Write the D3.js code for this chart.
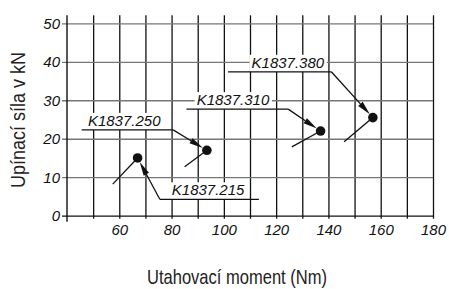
<!DOCTYPE html>
<html>
<head>
  <meta charset="utf-8">
  <title>Upínací síla</title>
  <style>
    body { margin: 0; background: #fff; }
    text { font-family: "Liberation Sans", Arial, sans-serif; }
  </style>
</head>
<body>
  <svg id="main" width="449" height="289"></svg>

  <script src="https://cdn.jsdelivr.net/npm/d3@7"></script>
  <script>
    // hodnoty
    const types = ['K1837.215', 'K1837.250', 'K1837.310', 'K1837.380']
    const torque = [67, 93.5, 137, 157]
    const force = [15, 17, 22, 25.5]
    // spodní konec krátké čáry u každého bodu
    const tailTorque = [57.5, 85, 126, 146]
    const tailForce = [8.2, 12.7, 17.9, 19.2]

    const gridX = [50, 60, 70, 80, 90, 100, 110, 120, 130, 140, 150, 160, 170, 180]
    const xTickLabels = [60, 80, 100, 120, 140, 160, 180]
    const yTicks = [0, 10, 20, 30, 40, 50]

    // umístění popisků (podtržení) v jednotkách grafu
    const labelX0 = [75.5, 45.6, 85.7, 101.6]
    const labelX1 = [113.4, 80.6, 124.6, 141.1]
    const labelY = [4.26, 22.3, 27.7, 37.4]
    const labelTextX = [80.1, 48, 89.6, 110.6]

    const svg = d3.select('#main')
    const margin = { top: 23.3, right: 16, bottom: 73.3, left: 67 }
    const width = +svg.attr('width')
    const height = +svg.attr('height')
    const innerWidth = width - margin.left - margin.right
    const innerHeight = height - margin.top - margin.bottom

    const chart = svg.append('g')
      .attr('transform', `translate(${margin.left},${margin.top})`)

    const xScale = d3.scaleLinear().domain([40, 180]).range([0, innerWidth])
    const yScale = d3.scaleLinear().domain([0, 50]).range([innerHeight, 0])

    // svislé čáry mřížky
    const xGrid = d3.axisBottom(xScale)
      .tickValues(gridX)
      .tickSize(-(innerHeight + 8))
      .tickFormat('')
    const gg = chart.append('g')
      .attr('transform', `translate(0,${innerHeight})`)
      .call(xGrid)
    gg.select('.domain').remove()
    gg.selectAll('.tick line')
      .attr('y1', 3)
      .attr('stroke', '#111')
      .attr('stroke-width', 1.3)
    gg.selectAll('.tick text').remove()

    // popisky osy x
    const xAxis = d3.axisBottom(xScale)
      .tickValues(xTickLabels)
      .tickSize(0)
      .tickPadding(9)
    const gx = chart.append('g')
      .attr('transform', `translate(0,${innerHeight})`)
      .call(xAxis)
    gx.select('.domain').remove()
    gx.selectAll('.tick text')
      .attr('font-size', 15)
      .attr('font-style', 'italic')
      .attr('fill', '#111')
      .attr('font-family', '"Liberation Sans", Arial, sans-serif')

    // vodorovné čáry mřížky + popisky osy y
    const yAxis = d3.axisLeft(yScale)
      .tickValues(yTicks)
      .tickSize(-innerWidth)
      .tickPadding(7)
    const gy = chart.append('g').call(yAxis)
    gy.select('.domain').remove()
    gy.selectAll('.tick line')
      .attr('x1', -5)
      .attr('stroke', d => d === 0 ? '#111' : '#777')
      .attr('stroke-width', 1.3)
    gy.selectAll('.tick text')
      .attr('font-size', 15)
      .attr('font-style', 'italic')
      .attr('fill', '#111')
      .attr('font-family', '"Liberation Sans", Arial, sans-serif')

    // osa y
    chart.append('line')
      .attr('x1', 0).attr('x2', 0)
      .attr('y1', -8).attr('y2', innerHeight + 6)
      .attr('stroke', '#111')
      .attr('stroke-width', 1.4)

    // popisky
    const labels = chart.append('g')
    types.forEach((t, i) => {
      const ux0 = xScale(labelX0[i])
      const ux1 = xScale(labelX1[i])
      const uy = yScale(labelY[i])
      const g = labels.append('g')
      const bg = g.append('rect').attr('fill', '#fff')
      const txt = g.append('text')
        .attr('x', xScale(labelTextX[i]))
        .attr('y', uy - 4)
        .attr('font-size', 15)
        .attr('font-style', 'italic')
        .attr('fill', '#111')
        .text(t)
      const bb = txt.node().getBBox()
      bg.attr('x', bb.x - 2).attr('y', bb.y + 1)
        .attr('width', bb.width + 4).attr('height', uy - bb.y - 1)

      g.append('line')
        .attr('x1', ux0).attr('x2', ux1)
        .attr('y1', uy).attr('y2', uy)
        .attr('stroke', '#111').attr('stroke-width', 1.3)

      // vodicí čára k bodu, od bližšího konce podtržení
      const px = xScale(torque[i])
      const py = yScale(force[i])
      const sx = Math.abs(ux0 - px) < Math.abs(ux1 - px) ? ux0 : ux1
      const dx = px - sx, dy = py - uy
      const len = Math.hypot(dx, dy)
      const ux = dx / len, uyv = dy / len
      const r = 4.5
      const tipX = px - ux * r, tipY = py - uyv * r
      const baseX = tipX - ux * 14, baseY = tipY - uyv * 14
      g.append('line')
        .attr('x1', sx).attr('y1', uy)
        .attr('x2', baseX).attr('y2', baseY)
        .attr('stroke', '#111').attr('stroke-width', 1.3)
      g.append('path')
        .attr('d', `M${tipX},${tipY}L${baseX - uyv * 3},${baseY + ux * 3}L${baseX + uyv * 3},${baseY - ux * 3}Z`)
        .attr('fill', '#111')
    })

    // krátké čáry a body
    chart.append('g').selectAll('line')
      .data(types)
      .join('line')
      .attr('x1', (d, i) => xScale(tailTorque[i]))
      .attr('y1', (d, i) => yScale(tailForce[i]))
      .attr('x2', (d, i) => xScale(torque[i]))
      .attr('y2', (d, i) => yScale(force[i]))
      .attr('stroke', '#111')
      .attr('stroke-width', 1.3)

    chart.append('g').selectAll('circle')
      .data(types)
      .join('circle')
      .attr('cx', (d, i) => xScale(torque[i]))
      .attr('cy', (d, i) => yScale(force[i]))
      .attr('r', 4.8)
      .attr('fill', '#111')

    // názvy os (úzké písmo napodobeno stažením)
    svg.append('text')
      .attr('x', 237)
      .attr('y', 284)
      .attr('text-anchor', 'middle')
      .attr('font-size', 21)
      .attr('fill', '#222')
      .attr('textLength', 180)
      .attr('lengthAdjust', 'spacingAndGlyphs')
      .text('Utahovací moment (Nm)')

    svg.append('text')
      .attr('transform', 'translate(25,120) rotate(-90)')
      .attr('text-anchor', 'middle')
      .attr('font-size', 21)
      .attr('fill', '#222')
      .attr('textLength', 136)
      .attr('lengthAdjust', 'spacingAndGlyphs')
      .text('Upínací síla v kN')
  </script>
</body>
</html>
